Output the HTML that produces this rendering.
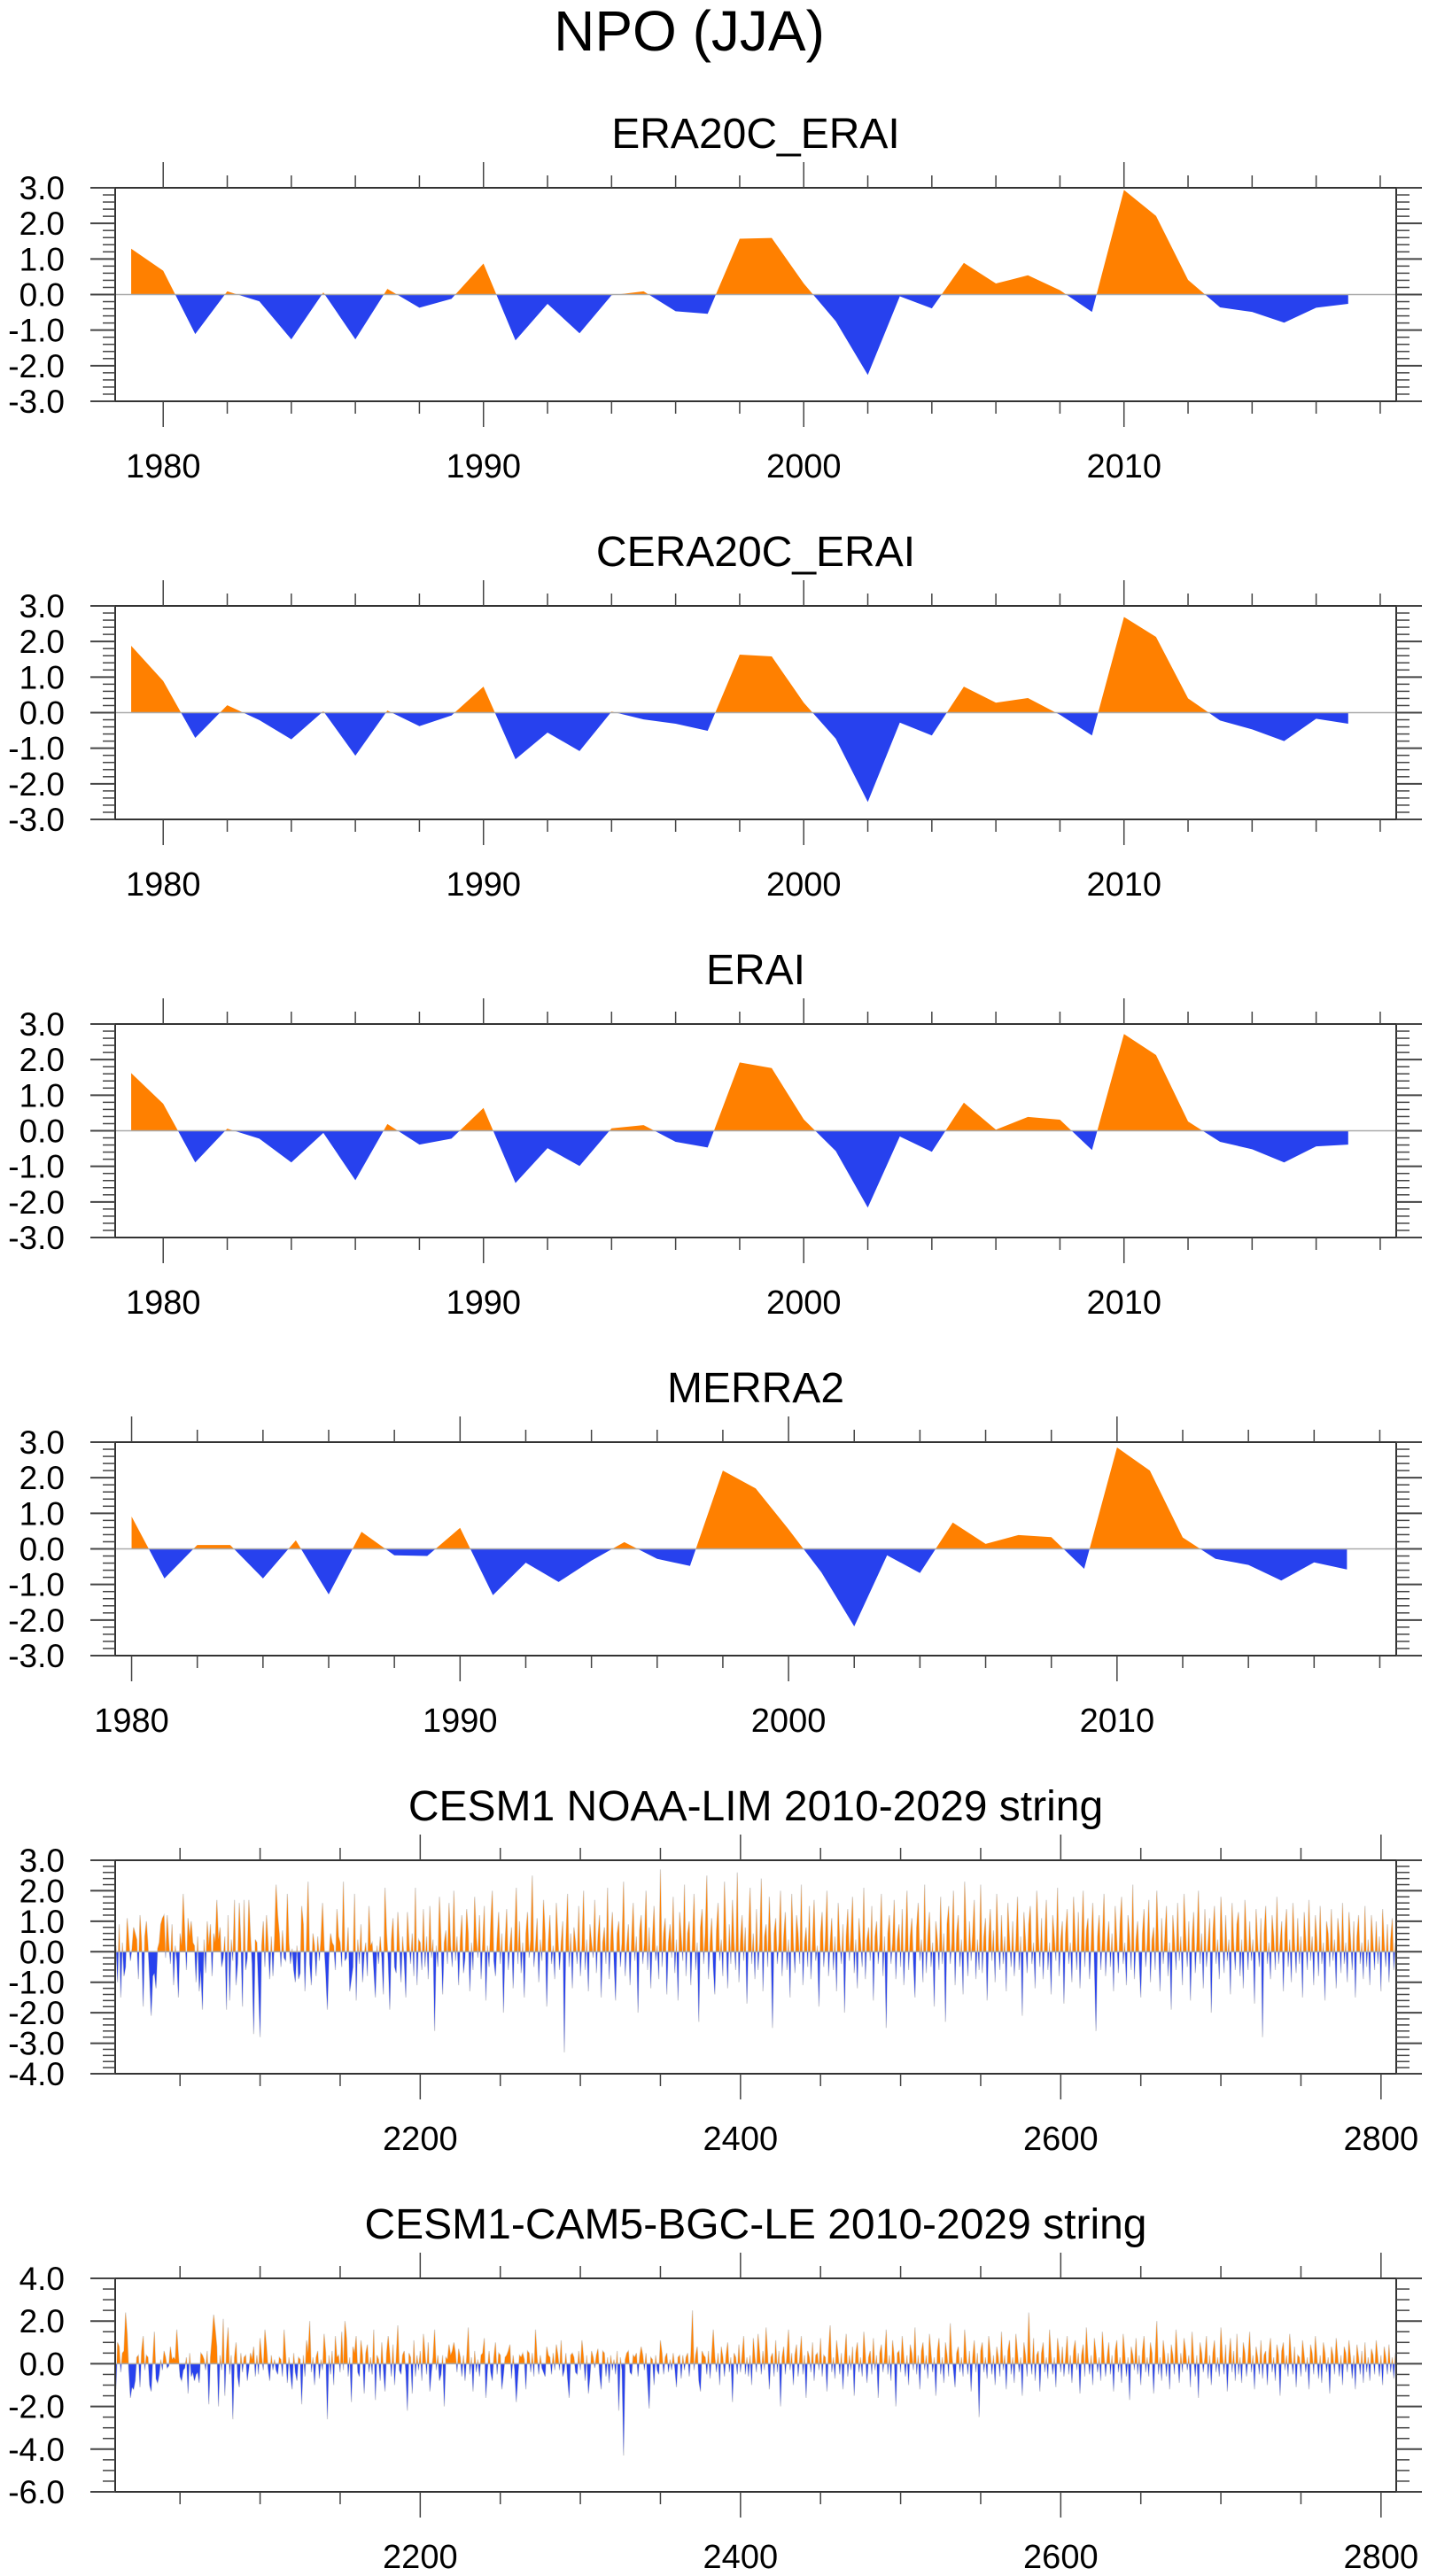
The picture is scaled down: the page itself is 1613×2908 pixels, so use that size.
<!DOCTYPE html>
<html><head><meta charset="utf-8"><title>NPO (JJA)</title>
<style>
html,body{margin:0;padding:0;background:#fff;}
svg{display:block;font-family:"Liberation Sans",Arial,sans-serif;}
</style></head>
<body>
<svg id="fig" width="1613" height="2908" viewBox="0 0 1613 2908" xmlns="http://www.w3.org/2000/svg">
<text x="778" y="57" font-size="64" text-anchor="middle">NPO (JJA)</text>
</svg>
<script>
// ---------- data ----------
const yearsA = [];
for (let y = 1979; y <= 2017; y++) yearsA.push(y);
const yearsB = [];
for (let y = 1980; y <= 2017; y++) yearsB.push(y);
const era20cValues = [1.29,0.67,-1.11,0.09,-0.19,-1.26,0.06,-1.26,0.16,-0.37,-0.12,0.87,-1.29,-0.26,-1.09,-0.02,0.09,-0.47,-0.54,1.57,1.59,0.31,-0.75,-2.26,-0.05,-0.39,0.89,0.31,0.54,0.12,-0.49,2.94,2.21,0.41,-0.36,-0.49,-0.79,-0.37,-0.26];
const cera20cValues = [1.88,0.89,-0.71,0.21,-0.21,-0.75,0.04,-1.21,0.06,-0.38,-0.08,0.73,-1.31,-0.56,-1.08,0.03,-0.19,-0.31,-0.51,1.63,1.58,0.28,-0.73,-2.51,-0.28,-0.64,0.73,0.28,0.41,-0.06,-0.64,2.69,2.13,0.40,-0.22,-0.47,-0.80,-0.17,-0.31];
const eraiValues = [1.62,0.76,-0.89,0.06,-0.22,-0.89,-0.06,-1.39,0.19,-0.39,-0.22,0.64,-1.47,-0.49,-0.99,0.07,0.16,-0.31,-0.47,1.92,1.76,0.32,-0.57,-2.16,-0.16,-0.59,0.79,0.03,0.39,0.31,-0.54,2.72,2.13,0.26,-0.31,-0.52,-0.89,-0.44,-0.39];
const merra2Values = [0.91,-0.83,0.11,0.11,-0.83,0.24,-1.28,0.48,-0.18,-0.20,0.59,-1.30,-0.39,-0.93,-0.33,0.19,-0.28,-0.48,2.20,1.70,0.55,-0.66,-2.18,-0.18,-0.68,0.74,0.14,0.39,0.33,-0.56,2.85,2.20,0.32,-0.28,-0.45,-0.89,-0.38,-0.58];
const limValues = [
0.2,-1.0,0.9,-1.5,0.3,-0.8,-0.5,1.1,0.4,-0.3,0.1,0.8,0.6,0.4,-0.9,1.2,0.3,-1.8,0.5,1.0,
0.2,-0.9,-2.1,-0.8,-0.7,-1.2,0.1,0.3,0.9,1.1,1.2,-0.2,1.2,0.3,-0.4,0.9,-1.1,0.2,-0.3,-1.5,
0.6,0.2,1.9,0.6,-0.6,1.1,0.5,1.0,0.3,0.2,-1.0,0.5,-1.3,-0.6,-1.9,0.4,-0.7,1.0,0.2,0.9,
-0.8,0.6,0.3,1.7,0.4,0.8,-0.5,-0.2,0.5,-1.9,1.2,-1.6,0.4,-0.3,1.7,-1.1,-0.4,1.6,0.3,-1.8,
1.7,-0.6,-0.2,1.7,0.5,-0.4,-2.7,0.4,0.3,-1.2,-2.8,0.2,1.0,-0.5,1.2,0.3,-0.9,0.5,-0.8,0.4,
2.2,1.2,0.6,-0.5,0.7,-0.2,-0.3,1.9,0.3,-0.4,0.1,-0.6,-1.0,0.2,-0.9,-0.7,1.5,0.9,-1.3,0.4,
2.3,-0.4,-1.1,0.6,0.2,-0.8,0.5,-0.3,0.4,1.6,0.2,-0.7,-1.9,-0.2,0.6,0.3,0.2,-0.6,1.4,0.5,
0.3,-0.5,2.3,-0.3,-0.2,0.8,-1.3,-0.9,-0.5,1.9,-1.6,0.4,-0.4,0.9,-1.0,-0.1,0.3,-0.8,1.5,0.2,
0.3,-0.6,-1.5,0.2,-0.4,0.5,-0.2,-1.4,2.1,0.6,-0.3,-1.9,0.4,1.1,-0.5,-0.7,1.3,0.2,-1.0,0.5,
-0.3,-1.5,1.3,0.3,-0.4,0.6,-0.8,2.1,-1.1,0.4,0.3,-0.6,1.4,-0.5,0.5,-0.9,1.5,-0.2,0.4,-2.6,
0.2,-0.5,1.8,0.4,-1.4,0.3,0.7,-0.4,1.6,0.2,-0.5,2.0,-0.3,0.5,-1.1,0.4,1.2,-0.7,-0.2,1.4,
0.6,-1.3,0.3,-0.6,1.8,0.5,-0.2,1.2,-0.9,0.3,1.5,-1.6,0.2,-0.5,0.9,2.0,-0.3,-0.8,0.4,1.3,
-0.4,0.6,-2.0,0.3,1.4,-0.6,0.2,0.8,-1.2,0.5,2.1,-0.4,1.0,-0.7,0.3,-1.5,0.6,1.3,-0.2,0.4,
2.5,-0.5,0.2,1.1,-1.0,0.4,-0.3,1.7,0.6,-1.8,0.3,1.2,-0.4,0.2,-0.9,1.6,0.5,-0.6,0.3,1.0,
-3.3,0.4,1.9,-0.5,0.6,-1.2,0.8,0.3,-0.4,1.5,-0.8,0.2,2.0,-0.6,0.4,-1.3,0.9,0.3,-0.2,1.7,
-0.7,0.5,1.2,-1.5,0.3,0.8,-0.4,2.1,-0.9,0.4,1.3,-0.3,-1.6,0.6,1.0,-0.5,0.3,2.3,-0.8,0.2,
0.9,-1.1,0.4,1.6,-0.3,0.5,-2.0,0.7,1.2,-0.4,0.3,2.0,-0.6,0.8,-1.2,0.4,1.5,-0.3,0.2,-0.9,
2.7,-0.5,0.6,1.1,-1.4,0.3,0.9,-0.2,1.8,-0.7,0.4,-1.6,1.3,0.5,-0.3,2.2,-0.8,0.6,1.0,-1.1,
0.4,1.9,-0.6,0.3,-2.3,0.8,1.4,-0.4,0.6,2.5,-0.9,0.3,1.1,-0.5,-1.4,0.7,1.6,-0.3,0.4,-0.8,
2.3,0.5,-1.2,0.9,-0.4,1.7,0.3,-0.6,2.6,-1.0,0.4,1.2,-0.3,0.8,-1.7,0.5,2.1,-0.4,0.6,-0.9,
1.4,-0.6,0.3,2.4,-1.3,0.5,0.9,-0.5,1.8,0.2,-2.5,0.6,1.1,-0.4,0.3,2.0,-0.8,0.5,1.3,-0.6,
0.4,-1.5,1.9,0.3,-0.7,1.2,0.6,-0.4,2.2,-1.1,0.3,0.8,-0.5,1.5,-0.9,0.4,1.7,-0.3,0.2,-1.8,
0.6,1.3,-0.5,0.4,2.0,-0.8,0.3,1.1,-0.6,0.5,-1.3,1.6,0.3,-0.4,0.9,-2.0,0.5,1.4,-0.3,0.6,
1.8,-0.7,0.4,-1.2,1.1,0.3,-0.5,2.1,-0.9,0.4,0.8,-0.3,1.5,-1.6,0.5,1.0,-0.4,0.3,1.9,-0.8,
0.5,-2.5,0.6,1.2,-0.4,0.3,1.7,-0.9,0.4,0.9,-0.5,1.4,-1.1,0.3,2.0,-0.6,0.5,1.1,-0.4,-1.5,
0.8,1.6,-0.3,0.4,-1.0,2.2,-0.7,0.5,1.3,-0.5,0.3,-1.8,1.0,0.4,-0.6,1.8,-0.4,0.6,-2.3,0.9,
1.5,-0.4,0.3,2.0,-1.1,0.6,1.2,-0.5,0.4,-1.4,2.3,0.5,-0.8,1.0,-0.3,0.6,1.7,-0.9,0.4,-0.6,
2.2,-0.7,0.5,1.1,-1.6,0.4,1.4,-0.3,0.7,-1.0,1.9,0.3,-0.6,1.2,-0.4,0.5,-1.3,1.6,0.4,-0.5,
1.0,-0.8,0.3,1.8,-0.6,0.5,-2.1,1.3,0.4,-0.7,0.9,1.5,-0.4,0.3,-1.2,2.0,0.6,-0.5,1.1,-0.9,
0.4,1.7,-0.6,0.3,-1.4,1.2,0.5,-0.3,2.1,-0.8,0.4,1.0,-1.7,0.6,1.4,-0.4,0.3,-1.0,1.8,0.5,
-0.6,1.3,-1.2,0.4,2.0,-0.5,0.7,1.1,-0.9,0.3,1.6,-0.4,-2.6,0.5,1.2,-0.6,0.4,1.9,-0.8,0.3,
1.0,-0.5,0.6,-1.3,1.5,0.4,-0.7,0.9,1.8,-0.4,0.3,-1.1,1.2,0.5,-0.6,2.2,-0.9,0.4,1.0,-0.3,
-1.5,0.6,1.4,-0.5,0.3,1.7,-1.0,0.4,0.8,-0.6,2.0,0.3,-1.3,1.1,-0.4,0.5,1.5,-0.8,0.3,-1.9,
1.2,0.4,-0.6,1.6,-0.3,0.5,-1.1,1.9,0.6,-0.5,1.0,-1.6,0.4,1.3,-0.7,0.3,2.0,-0.4,0.6,-1.2,
1.4,-0.5,0.3,1.1,-2.0,0.6,1.5,-0.4,0.4,-0.9,1.8,0.5,-0.7,1.2,-0.3,0.4,-1.4,1.6,0.3,-0.6,
0.9,1.3,-0.8,0.4,-1.2,1.7,0.5,-0.6,1.0,-0.3,0.4,-1.7,1.4,0.3,-0.5,1.1,-2.8,0.6,1.5,-0.4,
0.3,-0.9,1.2,0.5,-0.6,1.8,-0.4,0.3,1.0,-1.3,0.6,1.4,-0.5,0.4,-1.0,1.6,0.3,-0.7,1.1,-0.4,
0.5,-1.5,1.3,0.4,-0.6,1.7,-0.3,0.5,-1.1,1.2,0.4,-0.8,1.5,-0.4,0.3,-1.6,1.0,0.6,-0.5,1.4,
-0.3,0.4,-1.2,1.1,0.5,-0.7,1.6,-0.4,0.3,-1.0,1.3,0.4,-0.6,1.0,-1.5,0.5,1.2,-0.4,0.3,-0.9,
1.5,-0.5,0.4,-1.1,1.2,0.3,-0.6,1.0,-0.4,0.5,-1.3,1.4,0.3,-0.5,0.9,-1.0,0.4,1.1,-0.6,0.3];
const bgcValues = [
-1.2,1.0,0.8,-0.4,0.5,0.6,2.4,1.4,-0.3,-1.6,-1.1,-1.2,-0.8,0.3,0.4,-1.1,0.6,1.3,-0.3,0.4,
0.3,-1.0,-1.3,0.2,1.5,-0.7,-0.9,-0.5,0.2,-0.3,0.6,0.3,-0.2,-0.1,0.8,0.2,0.3,0.2,1.6,0.4,
-0.6,-0.8,-0.3,-0.2,0.3,-1.4,0.5,-0.6,-0.4,-0.8,-0.5,-0.4,-0.9,0.5,0.4,0.2,-0.3,0.6,-1.9,0.3,
1.2,2.3,1.6,0.8,-2.0,0.4,-0.3,2.1,-1.5,0.6,1.7,-0.5,0.4,-2.6,0.3,1.0,-0.6,-1.1,0.5,-0.4,
0.3,0.4,-0.8,-0.2,0.5,0.2,0.8,-0.6,0.4,-0.5,1.2,0.3,-0.3,1.6,0.8,-0.2,-0.8,0.4,-0.3,0.2,
-0.3,-0.5,0.3,0.2,-0.6,1.6,0.4,-0.9,0.3,-0.5,-1.2,0.5,-0.4,-0.8,0.3,0.2,-1.9,0.4,-0.6,1.1,
0.5,2.0,-0.4,0.3,-1.0,0.3,0.6,-0.7,0.2,-0.3,1.4,0.5,-2.6,0.4,-0.5,0.6,-1.0,1.3,0.3,0.4,
-0.4,1.5,-0.3,2.0,1.2,-0.6,0.3,-1.8,0.8,0.5,1.3,-0.4,-0.6,1.1,0.4,-1.4,0.5,0.9,-0.4,0.3,
-0.5,1.6,-1.7,0.4,0.2,-0.8,1.0,-0.3,-1.3,0.5,1.3,0.4,-0.6,0.9,-1.0,0.3,1.8,-0.3,-0.5,0.4,
0.6,-0.4,-2.2,0.5,0.3,-1.4,1.1,-0.6,0.4,-0.3,0.6,-0.8,1.4,0.5,-0.5,1.0,-1.3,-0.4,0.3,1.6,
-0.3,0.4,-0.8,-0.5,0.4,-2.0,0.3,0.2,0.9,0.4,0.6,1.0,0.5,-0.4,0.7,0.3,-0.6,0.4,-0.8,0.3,
1.7,-0.5,0.3,-1.3,0.6,-0.4,0.2,-0.6,0.4,0.5,1.2,-1.6,-0.3,0.6,-0.4,-0.8,0.3,1.0,-0.5,0.5,
0.4,-1.2,-0.5,0.3,0.4,0.6,0.9,-0.7,0.4,-0.3,-1.8,-0.6,0.4,0.3,0.5,0.2,-1.2,0.6,0.5,-0.4,
0.5,-0.6,1.6,0.3,-0.5,0.4,-0.2,-0.4,-0.6,0.8,0.4,0.3,-0.5,0.5,-0.3,0.9,0.4,-0.3,1.1,-0.6,
-0.3,0.5,-0.7,-1.6,0.4,0.5,0.3,-0.4,-0.5,0.6,-0.3,1.1,0.3,-0.8,0.4,-1.4,-0.6,0.6,0.3,-0.2,
0.4,0.7,-0.5,-1.2,0.6,0.5,-0.6,0.3,-0.9,0.4,-0.3,0.2,-0.5,0.6,-2.2,0.3,-0.3,-4.3,0.2,0.5,
0.6,-0.4,-0.5,0.4,0.3,0.5,-0.6,0.3,0.8,0.4,-0.3,0.5,-0.8,-2.1,0.3,0.2,-1.0,0.4,-0.3,-0.5,
1.1,0.5,-0.5,0.3,0.5,-0.4,0.2,-0.3,0.5,-0.2,-1.1,0.3,0.4,-0.7,0.4,-0.3,0.3,0.5,-0.6,0.4,
2.5,-0.3,0.4,0.8,-0.8,-1.3,0.6,0.4,0.3,-0.5,0.6,-0.7,0.4,1.6,0.3,-0.4,0.5,-1.0,0.8,0.3,
-0.6,0.4,1.0,-0.4,0.3,-1.8,0.5,0.3,-0.5,0.9,-0.4,0.4,1.3,-0.5,0.3,-0.6,0.4,-1.0,1.2,0.3,
-0.4,1.4,0.5,-0.5,0.6,-0.3,1.7,0.4,-1.2,0.3,0.5,-0.6,1.1,-0.4,0.6,-2.0,0.3,0.8,-0.5,0.4,
1.6,-0.3,0.5,-1.0,0.4,0.9,-0.6,0.3,1.3,-0.5,0.4,-1.6,0.6,0.3,-0.4,1.0,-0.8,0.4,0.5,-0.3,
1.2,-0.6,0.4,0.3,-1.3,0.6,1.8,-0.4,0.3,-0.7,1.1,0.4,-0.5,0.5,-1.2,0.3,1.4,-0.6,0.4,-0.3,
0.8,-1.5,0.5,1.0,-0.4,0.3,-0.6,1.5,0.4,-0.9,0.3,0.6,-0.5,1.2,-0.3,0.4,-1.6,0.5,0.9,-0.4,
0.3,1.6,-0.5,0.4,-0.8,1.1,0.3,-2.0,0.5,0.6,-0.4,1.3,0.3,-0.6,0.4,-1.0,0.9,0.5,-0.3,1.7,
-0.5,0.4,-1.2,0.6,1.0,-0.3,0.4,-0.7,1.4,0.5,-0.4,0.3,-1.5,0.6,1.2,-0.5,0.3,-0.9,1.0,0.4,
-0.6,1.9,0.4,-0.3,-1.1,0.5,0.8,-0.4,0.3,-0.6,1.6,0.4,-0.5,0.6,-1.3,0.3,1.1,-0.4,0.5,-2.5,
0.6,1.0,-0.4,0.3,-0.7,1.3,0.5,-0.5,0.4,-1.0,0.8,0.3,-0.6,1.5,-0.3,0.4,-1.2,0.6,1.1,-0.5,
0.3,-0.9,1.4,0.5,-0.4,0.3,-1.5,1.0,0.4,-0.6,2.4,0.3,-0.5,1.2,-0.8,0.4,0.6,-1.3,0.5,1.0,
-0.4,0.3,-0.7,1.6,0.4,-0.5,0.3,-1.1,1.2,0.5,-0.4,0.8,-0.6,0.3,1.3,-0.5,0.4,-0.9,0.6,1.1,
-0.3,0.5,-1.4,0.4,0.9,-0.6,1.7,0.3,-0.5,0.4,-1.0,1.2,0.5,-0.4,0.3,-0.8,1.5,0.4,-0.6,0.3,
1.0,-0.5,0.4,-1.3,0.6,1.1,-0.4,0.3,-0.9,1.4,0.5,-0.6,0.3,-1.7,0.8,0.4,-0.3,1.2,-0.5,0.4,
-1.0,0.6,1.3,-0.4,0.3,-0.6,1.0,0.5,-1.4,0.4,2.0,-0.5,0.3,-0.8,1.1,0.4,-0.6,0.5,-1.2,0.9,
0.4,-0.5,1.6,0.3,-0.9,0.5,-0.4,1.2,0.6,-0.3,0.4,-1.1,1.5,0.3,-0.6,0.4,-1.6,1.0,0.5,-0.4,
0.3,1.3,-0.7,0.4,-1.0,0.5,1.1,-0.4,0.3,-0.6,1.7,0.4,-0.5,0.9,-1.3,0.3,1.2,-0.4,0.6,-0.8,
1.4,-0.5,0.3,-0.9,1.0,0.5,-0.6,0.3,1.5,-0.4,0.4,-1.2,0.8,0.3,-0.5,1.1,-0.7,0.4,0.6,-1.0,
0.5,1.2,-0.4,0.3,-0.8,0.9,0.4,-1.5,0.6,1.0,-0.3,0.4,-0.6,1.4,0.3,-0.5,0.8,-1.1,0.4,0.3,
-0.6,1.1,0.4,-0.4,0.3,-1.2,0.9,0.5,-0.5,1.3,0.3,-0.7,0.4,-0.9,1.0,0.5,-0.4,0.3,-1.4,0.8,
0.4,-0.5,1.2,0.3,-0.6,0.4,-1.0,0.8,0.5,-0.4,1.1,0.3,-0.7,0.4,-1.2,0.9,0.3,-0.5,0.6,-0.9,
1.0,-0.4,0.3,-0.8,0.7,0.4,-0.5,1.1,0.3,-0.6,0.4,-1.0,0.8,0.3,-0.5,0.9,-0.4,0.3,-0.7,0.5];
const yearsLong = [];
for (let i = 0; i < limValues.length; i++) yearsLong.push(2010 + i);
const ticksYearly = [1980, 1990, 2000, 2010];
const ticksLong = [2200, 2400, 2600, 2800];
const yTicksA = [-3, -2, -1, 0, 1, 2, 3];
const yTicksB = [-4, -3, -2, -1, 0, 1, 2, 3];
const yTicksC = [-6, -4, -2, 0, 2, 4];

// ---------- drawing ----------
const NS = 'http://www.w3.org/2000/svg';
const svg = document.getElementById('fig');
function mk(tag, attrs, parent) {
  const e = document.createElementNS(NS, tag);
  for (const k in attrs) e.setAttribute(k, attrs[k]);
  (parent || svg).appendChild(e);
  return e;
}
const L = 130, R = 1576, H = 241;
let clipId = 0;

function panel(cfg) {
  const g = mk('g', {});
  
  
  const top = cfg.top, bot = top + H;
  const sx = v => L + (v - cfg.xmin) / (cfg.xmax - cfg.xmin) * (R - L);
  const sy = v => bot - (v - cfg.ymin) / (cfg.ymax - cfg.ymin) * H;

  const t = mk('text', {x: (L + R) / 2, y: top - 45, 'font-size': 48, 'text-anchor': 'middle'}, g);
  
  
  t.textContent = cfg.title;

  // series polygon
  const xs = cfg.years, vs = cfg.values;
  const y0 = sy(0);
  let pts = sx(xs[0]).toFixed(2) + ',' + y0.toFixed(2);
  let line = '';
  for (let i = 0; i < xs.length; i++) {
    const p = sx(xs[i]).toFixed(2) + ',' + sy(vs[i]).toFixed(2);
    pts += ' ' + p;
    line += (i ? ' ' : '') + p;
  }
  pts += ' ' + sx(xs[xs.length - 1]).toFixed(2) + ',' + y0.toFixed(2);

  const idA = 'cpA' + (clipId++), idB = 'cpB' + (clipId++);
  const defs = mk('defs', {}, g);
  const cA = mk('clipPath', {id: idA}, defs);
  mk('rect', {x: L, y: top, width: R - L, height: y0 - top}, cA);
  const cB = mk('clipPath', {id: idB}, defs);
  mk('rect', {x: L, y: y0, width: R - L, height: bot - y0}, cB);

  if (cfg.outline) {
    const pl = mk('polyline', {points: line, fill: 'none', stroke: '#d2d2d2', 'stroke-width': 1.2}, g);
    
    
  }
  const pos = mk('polygon', {points: pts, fill: '#ff8000', 'clip-path': 'url(#' + idA + ')'}, g);
  
  
  const neg = mk('polygon', {points: pts, fill: '#2741ee', 'clip-path': 'url(#' + idB + ')'}, g);
  
  

  const zl = mk('line', {x1: L, x2: R, y1: y0, y2: y0, stroke: '#aaaaaa', 'stroke-width': 1.5}, g);
  
  

  // frame
  const fr = mk('rect', {x: L, y: top, width: R - L, height: H, fill: 'none', stroke: '#333', 'stroke-width': 2}, g);
  
  

  // y ticks
  const yt = cfg.yTicks;
  for (let v = cfg.ymin; v <= cfg.ymax + 1e-9; v += cfg.yMinor) {
    const y = sy(v);
    const major = yt.some(m => Math.abs(m - v) < 1e-6);
    const len = major ? 28 : 14;
    mk('line', {x1: L - len, x2: L, y1: y, y2: y, stroke: '#444', 'stroke-width': major ? 2 : 1.5}, g);
    mk('line', {x1: R, x2: R + (major ? 29 : 15), y1: y, y2: y, stroke: '#444', 'stroke-width': major ? 2 : 1.5}, g);
  }
  for (const v of yt) {
    const lab = mk('text', {x: 73, y: sy(v) + 13, 'font-size': 37, 'text-anchor': 'end'}, g);
    
    
    lab.textContent = v.toFixed(1);
  }
  // x ticks
  const first = Math.ceil(cfg.xmin / cfg.xMinor) * cfg.xMinor;
  for (let v = first; v <= cfg.xmax; v += cfg.xMinor) {
    const x = sx(v);
    const major = cfg.xTicks.indexOf(v) >= 0 || (v - cfg.xTicks[0]) % cfg.xMajor === 0;
    const len = major ? 29 : 14;
    mk('line', {x1: x, x2: x, y1: top - len, y2: top, stroke: '#444', 'stroke-width': 1.5}, g);
    mk('line', {x1: x, x2: x, y1: bot, y2: bot + len, stroke: '#444', 'stroke-width': 1.5}, g);
  }
  for (const v of cfg.xTicks) {
    const lab = mk('text', {x: sx(v), y: top + 327, 'font-size': 38, 'text-anchor': 'middle'}, g);
    
    
    lab.textContent = v;
  }
}

const base = {xmin: 1978.5, xmax: 2018.5, ymin: -3, ymax: 3, yMinor: 0.2, yTicks: yTicksA, xTicks: ticksYearly, xMinor: 2, xMajor: 10};
panel(Object.assign({}, base, {name: 'era20c-erai-panel', title: 'ERA20C_ERAI', top: 212, years: yearsA, values: era20cValues}));
panel(Object.assign({}, base, {name: 'cera20c-erai-panel', title: 'CERA20C_ERAI', top: 684, years: yearsA, values: cera20cValues}));
panel(Object.assign({}, base, {name: 'erai-panel', title: 'ERAI', top: 1156, years: yearsA, values: eraiValues}));
panel(Object.assign({}, base, {name: 'merra2-panel', title: 'MERRA2', top: 1628, xmin: 1979.5, years: yearsB, values: merra2Values}));
panel({name: 'cesm1-noaa-lim-panel', title: 'CESM1 NOAA-LIM 2010-2029 string', top: 2100, xmin: 2009.5, xmax: 2809.5,
  ymin: -4, ymax: 3, yMinor: 0.2, yTicks: yTicksB, xTicks: ticksLong, xMinor: 50, xMajor: 200, years: yearsLong, values: limValues, outline: true});
panel({name: 'cesm1-cam5-bgc-le-panel', title: 'CESM1-CAM5-BGC-LE 2010-2029 string', top: 2572, xmin: 2009.5, xmax: 2809.5,
  ymin: -6, ymax: 4, yMinor: 0.5, yTicks: yTicksC, xTicks: ticksLong, xMinor: 50, xMajor: 200, years: yearsLong, values: bgcValues, outline: true});
</script>
</body></html>
